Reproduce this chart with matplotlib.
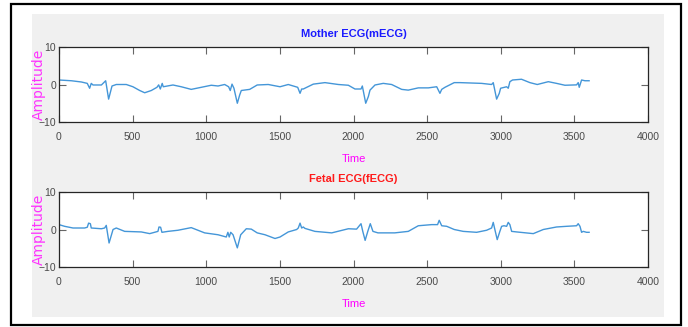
import matplotlib.pyplot as plt
from matplotlib.patches import Rectangle

# breakpoints (time, amplitude)
m_time = [0, 84, 152, 192, 208, 219, 231, 288, 317, 337, 360, 389, 457, 502, 548, 582, 627, 665,
          677, 688, 701, 708, 774, 830, 898, 966, 1034, 1080, 1125, 1152, 1163, 1175, 1188, 1211,
          1227, 1238, 1295, 1346, 1421, 1501, 1557, 1621, 1637, 1648, 1659, 1727, 1806, 1897,
          1965, 2010, 2051, 2060, 2083, 2101, 2112, 2146, 2202, 2259, 2327, 2372, 2440, 2508,
          2565, 2587, 2599, 2621, 2684, 2723, 2870, 2938, 2949, 2972, 2990, 2999, 3040, 3051,
          3062, 3080, 3141, 3198, 3248, 3323, 3379, 3436, 3515, 3526, 3533, 3549, 3572, 3600]
m_amp = [1.2, 1.0, 0.67, 0.3, -1.0, 0.3, -0.13, -0.13, 1.0, -3.9, -0.4, 0, 0, -0.6, -1.6, -2.2,
         -1.6, -0.75, -0.1, -1.2, 0.3, -0.6, -0.13, -0.6, -1.3, -0.75, -0.2, -0.4, 0, -0.6, -1.6,
         0.1, -1.0, -5.0, -2.8, -1.6, -1.3, -0.13, 0, -0.6, 0, -0.75, -2.35, -1.2, -1.2, 0.1, 0.5,
         0, -0.2, -1.2, -1.2, -0.4, -5.0, -3.2, -1.5, -0.13, 0.3, 0, -1.3, -1.5, -0.9, -0.9, -0.6,
         -2.35, -1.3, -0.75, 0.5, 0.5, 0.3, 0, 0.5, -3.9, -2.35, -1.0, -0.6, -1.0, 0.75, 1.2, 1.4,
         0.5, 0, 0.75, 0.3, -0.2, -0.1, 0.5, -0.75, 1.2, 1.0, 1.0]

f_time = [0, 38, 95, 174, 192, 201, 213, 219, 288, 310, 321, 340, 367, 389, 446, 559, 616, 672,
          679, 690, 699, 740, 808, 898, 989, 1080, 1136, 1147, 1156, 1166, 1182, 1211, 1234,
          1272, 1306, 1346, 1399, 1467, 1501, 1557, 1614, 1625, 1637, 1648, 1659, 1670, 1738,
          1852, 1965, 2021, 2051, 2063, 2079, 2097, 2114, 2132, 2166, 2280, 2372, 2440, 2531,
          2571, 2582, 2599, 2633, 2684, 2745, 2836, 2904, 2938, 2949, 2960, 2976, 2994, 3006,
          3022, 3040, 3051, 3062, 3074, 3108, 3221, 3289, 3379, 3447, 3515, 3526, 3538, 3549,
          3560, 3583, 3600]
f_amp = [1.3, 0.85, 0.4, 0.4, 0.6, 1.7, 1.55, 0.4, 0.2, 0.4, 1.1, -3.6, 0, 0.4, -0.5, -0.65,
         -1.1, -0.5, 0.67, 0.6, -0.75, -0.5, -0.2, 0.5, -0.9, -1.4, -2.0, -0.75, -2.0, -0.75,
         -1.4, -4.9, -1.4, 0.2, 0.1, -0.9, -1.4, -2.4, -2.0, -0.65, 0, 0.4, 1.7, 0.4, 0.67, 0.3,
         -0.5, -0.9, 0.2, 0.1, 1.55, -0.5, -2.9, -0.5, 1.55, -0.5, -0.9, -0.9, -0.5, 1.0, 1.3, 1.3,
         2.45, 1.0, 0.85, 0, -0.5, -0.75, -0.2, 0.4, 1.9, 0, -2.7, -0.5, 0.85, 1.0, 0.85, 1.9,
         1.3, -0.5, -0.65, -1.1, 0, 0.67, 0.85, 1.0, 1.55, 0.85, -0.75, -0.5, -0.75, -0.75]

titles = ['Mother ECG(mECG)', 'Fetal ECG(fECG)']
title_colors = ['#1a1aff', '#ff1a1a']

plt.rcParams['font.family'] = ['Liberation Sans Narrow', 'Liberation Sans', 'DejaVu Sans']

W, H = 688, 327
fig = plt.figure(figsize=(W / 100, H / 100), dpi=100)
fig.patch.set_facecolor('white')

# outer border and gray panel (behind the axes)
fig.patches.append(Rectangle((11 / W, 1 - 325 / H), 670 / W, 321 / H, transform=fig.transFigure,
                             fill=False, edgecolor='black', linewidth=1.6, zorder=-2))
fig.patches.append(Rectangle((32 / W, 1 - 317 / H), 632 / W, 303 / H, transform=fig.transFigure,
                             facecolor='#f0f0f0', edgecolor='none', zorder=-1))

tops = [47, 192]
series = [(m_time, m_amp), (f_time, f_amp)]
for i in range(2):
    ax = fig.add_axes([59 / W, 1 - (tops[i] + 75) / H, 589 / W, 75 / H])
    ax.set_zorder(1)
    ax.set_facecolor('white')
    t, a = series[i]
    ax.plot(t, a, color='#4496d8', linewidth=1.0)
    ax.set_xlim(0, 4000)
    ax.set_ylim(-10, 10)
    ax.set_xticks(range(0, 4001, 500))
    ax.set_yticks([-10, 0, 10])
    ax.tick_params(direction='in', length=5, width=0.8, color='#666666', labelcolor='#4a4a4a',
                   labelsize=7.5, top=True, right=True)
    ax.tick_params(axis='x', pad=7.5)
    ax.tick_params(axis='y', pad=2)
    for s in ax.spines.values():
        s.set_color('#262626')
        s.set_linewidth(0.9)
    ax.set_title(titles[i], color=title_colors[i], fontsize=8, fontweight='bold', pad=7)
    ax.set_xlabel('Time', color='#ff00ff', fontsize=8, labelpad=8)
    ax.set_ylabel('Amplitude', color='#ff33ff', fontsize=10, labelpad=-5,
                  family=['DejaVu Sans'])

fig.savefig('out.png', dpi=100)
